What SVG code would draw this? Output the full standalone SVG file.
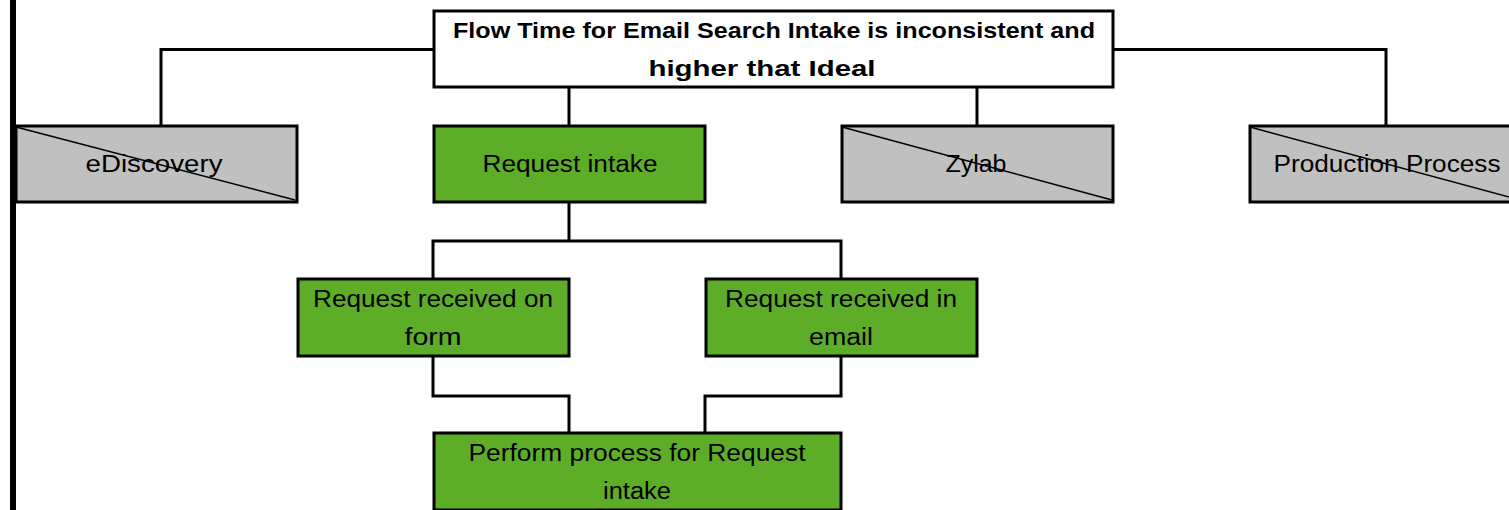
<svg xmlns="http://www.w3.org/2000/svg" width="1509" height="510" viewBox="0 0 1509 510">
<style>
.box{stroke:#000;stroke-width:3}
.w{fill:#fff}
.g{fill:#5dad29}
.x{fill:#c0c0c0}
.diag{stroke:#000;stroke-width:1.5}
.conn{fill:none;stroke:#000;stroke-width:3}
text{font-family:"Liberation Sans",Arial,sans-serif;font-size:23px;fill:#000;text-anchor:middle}
.t{font-weight:bold;font-size:22px}
</style>
<rect x="10" y="0" width="6" height="510" fill="#000"/>
<g id="connectors">
<path class="conn" d="M434 49.5H161V126"/>
<path class="conn" d="M1113 49.5H1386V126"/>
<path class="conn" d="M569 88V126"/>
<path class="conn" d="M977 88V126"/>
<path class="conn" d="M569 202V241"/>
<path class="conn" d="M433 279V241H841V279"/>
<path class="conn" d="M433 356V396H569V433"/>
<path class="conn" d="M841 356V396H705V433"/>
</g>
<g id="root">
<rect class="box w" x="434" y="11" width="679" height="76"/>
<text class="t" x="774" y="38" textLength="642" lengthAdjust="spacingAndGlyphs">Flow Time for Email Search Intake is inconsistent and</text>
<text class="t" x="762" y="76" textLength="227" lengthAdjust="spacingAndGlyphs">higher that Ideal</text>
</g>
<g id="ediscovery">
<rect class="box x" x="16" y="126" width="281" height="76"/>
<line class="diag" x1="16" y1="127" x2="295" y2="200"/>
<text x="154" y="172" textLength="137" lengthAdjust="spacingAndGlyphs">eDiscovery</text>
</g>
<g id="request-intake">
<rect class="box g" x="434" y="126" width="271" height="76"/>
<text x="570" y="172" textLength="175" lengthAdjust="spacingAndGlyphs">Request intake</text>
</g>
<g id="zylab">
<rect class="box x" x="842" y="126" width="271" height="76"/>
<line class="diag" x1="842" y1="127" x2="1112" y2="200"/>
<text x="976" y="172" textLength="61" lengthAdjust="spacingAndGlyphs">Zylab</text>
</g>
<g id="production-process">
<rect class="box x" x="1250" y="126" width="271" height="76"/>
<line class="diag" x1="1250" y1="127" x2="1520" y2="200"/>
<text x="1387" y="172" textLength="227" lengthAdjust="spacingAndGlyphs">Production Process</text>
</g>
<g id="request-form">
<rect class="box g" x="298" y="279" width="271" height="77"/>
<text x="433" y="307" textLength="240" lengthAdjust="spacingAndGlyphs">Request received on</text>
<text x="433" y="345" textLength="57" lengthAdjust="spacingAndGlyphs">form</text>
</g>
<g id="request-email">
<rect class="box g" x="706" y="279" width="271" height="77"/>
<text x="841" y="307" textLength="232" lengthAdjust="spacingAndGlyphs">Request received in</text>
<text x="841" y="345" textLength="64" lengthAdjust="spacingAndGlyphs">email</text>
</g>
<g id="perform-process">
<rect class="box g" x="434" y="433" width="407" height="77"/>
<text x="637" y="461" textLength="337" lengthAdjust="spacingAndGlyphs">Perform process for Request</text>
<text x="637" y="499" textLength="68" lengthAdjust="spacingAndGlyphs">intake</text>
</g>
</svg>
